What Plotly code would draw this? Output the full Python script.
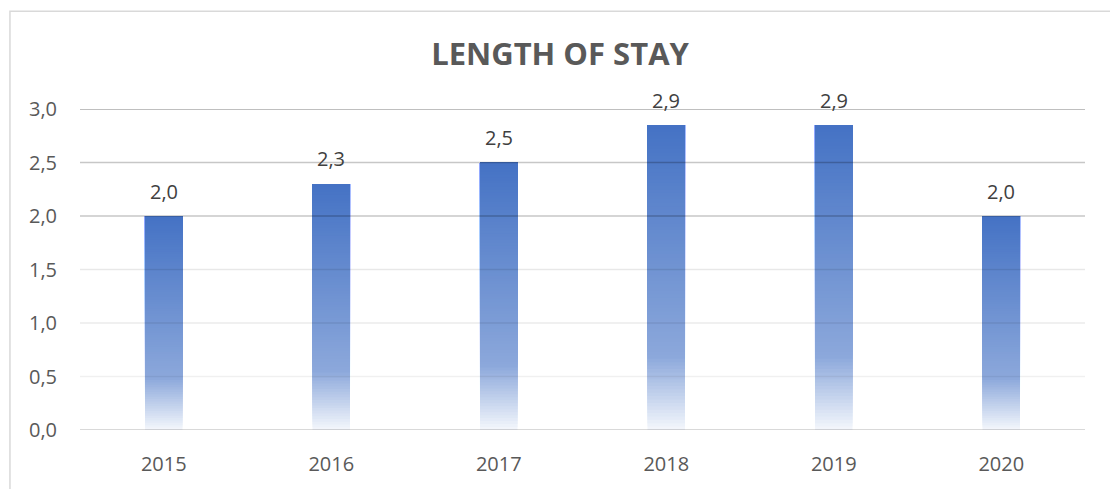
import plotly.graph_objects as go

# Average length of stay per year
years = ["2015", "2016", "2017", "2018", "2019", "2020"]
stay_values = [2.0, 2.3, 2.5, 2.85, 2.85, 2.0]
y_ticks = [0.0, 0.5, 1.0, 1.5, 2.0, 2.5, 3.0]

# Vertical gradient stops: (fraction from bar bottom, rgb)
grad_stops = [
    (0.0, (244, 247, 252)),
    (0.24, (140, 168, 219)),
    (1.0, (68, 114, 196)),
]


def grad_color(t):
    for (t0, c0), (t1, c1) in zip(grad_stops[:-1], grad_stops[1:]):
        if t <= t1:
            f = (t - t0) / (t1 - t0) if t1 > t0 else 0
            r, g, b = (round(a + (b_ - a) * f) for a, b_ in zip(c0, c1))
            return f"rgb({r},{g},{b})"
    r, g, b = grad_stops[-1][1]
    return f"rgb({r},{g},{b})"


N_SLICES = 90
BAR_WIDTH = 0.224

fig = go.Figure()

# Each bar is painted as a stack of overlapping slices: slice k spans
# from k/N of the value up to the value, so later slices cover the
# upper part and the visible bands form a smooth gradient.
for k in range(N_SLICES):
    frac = k / N_SLICES
    fig.add_trace(go.Bar(
        x=years,
        y=[v * (1 - frac) for v in stay_values],
        base=[v * frac for v in stay_values],
        width=BAR_WIDTH,
        marker=dict(color=grad_color((k + 0.5) / N_SLICES), line=dict(width=0)),
        hoverinfo="skip",
        showlegend=False,
    ))

# Value labels above each bar (x given as category index)
for i, v in enumerate(stay_values):
    fig.add_annotation(
        x=i, y=v, xref="x", yref="y",
        text=f"{v:.1f}".replace(".", ","),
        showarrow=False, yanchor="middle", yshift=25,
        font=dict(family="Open Sans", size=20, color="#404040"),
    )

# Horizontal gridlines drawn above the bars with partial transparency
grid_alpha = {3.0: 0.25, 2.5: 0.22, 2.0: 0.22, 1.5: 0.09, 1.0: 0.08, 0.5: 0.06, 0.0: 0.15}
for t in y_ticks:
    fig.add_shape(
        type="line", xref="paper", yref="y",
        x0=0, x1=1, y0=t, y1=t,
        line=dict(color=f"rgba(0,0,0,{grid_alpha[t]})", width=2 if t in (3.0, 0.0) else 1.6),
        layer="above",
    )

# Chart frame
fig.add_shape(
    type="rect", xref="paper", yref="paper",
    x0=-0.0697, x1=1.3, y0=-0.6, y1=1.3046,
    line=dict(color="#d9d9d9", width=1.5),
    layer="below",
)

fig.update_layout(
    width=1110,
    height=489,
    margin=dict(l=80, r=25, t=109, b=55),
    paper_bgcolor="white",
    plot_bgcolor="white",
    barmode="overlay",
    separators=",.",
    title=dict(
        text="<b>LENGTH OF STAY</b>",
        x=560 / 1110, xref="container", xanchor="center",
        y=1 - 54 / 489, yref="container", yanchor="middle",
        font=dict(family="Open Sans", size=31, color="#595959"),
    ),
    xaxis=dict(
        type="category",
        categoryorder="array",
        categoryarray=years,
        range=[-0.5, len(years) - 0.5],
        showgrid=False,
        showline=False,
        zeroline=False,
        ticks="",
        ticklabelstandoff=20,
        tickfont=dict(family="Open Sans", size=20, color="#595959"),
    ),
    yaxis=dict(
        range=[0, 3.0],
        tickvals=y_ticks,
        tickformat=".1f",
        showgrid=False,
        zeroline=False,
        showline=False,
        ticks="",
        ticklabelstandoff=22,
        tickfont=dict(family="Open Sans", size=20, color="#595959"),
    ),
    font=dict(family="Open Sans"),
)

fig.write_html("out.html")
